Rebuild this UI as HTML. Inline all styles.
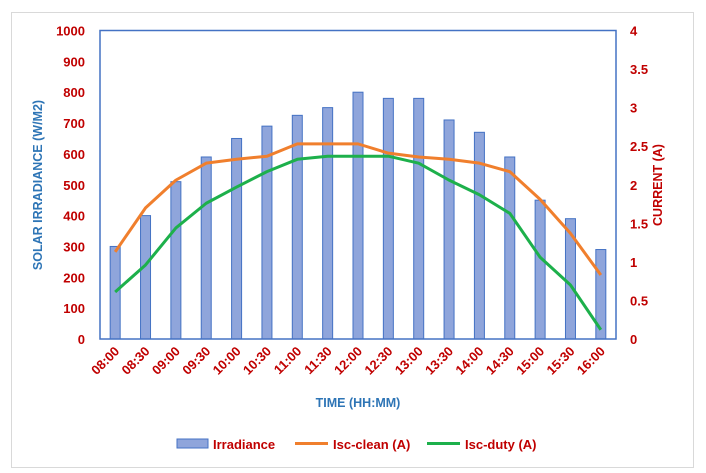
<!DOCTYPE html>
<html><head><meta charset="utf-8"><style>
body{margin:0;background:#fff;}
svg{display:block;font-family:"Liberation Sans",sans-serif;}
</style></head><body>
<svg id="c" width="706" height="473">
<rect x="11.5" y="12.5" width="682" height="455" fill="#fff" stroke="#d9d9d9"/>
<g id="bars"></g>
<g id="lines"></g>
<rect x="100" y="30.5" width="516" height="308.5" fill="none" stroke="#4472C4" stroke-width="1.5"/>
<g id="ticks" font-weight="bold" font-size="13" fill="#C00000"></g>
<text x="42" y="185" transform="rotate(-90 42 185)" text-anchor="middle" font-size="12.5" font-weight="bold" fill="#2E75B6">SOLAR IRRADIANCE (W/M2)</text>
<text x="662" y="185" transform="rotate(-90 662 185)" text-anchor="middle" font-size="12.5" font-weight="bold" fill="#C00000">CURRENT (A)</text>
<text x="358" y="407" text-anchor="middle" font-size="12.5" font-weight="bold" fill="#2E75B6">TIME (HH:MM)</text>
<g font-size="13" font-weight="bold" fill="#C00000">
<rect x="177" y="439" width="31" height="9" fill="#8FA5DB" stroke="#4472C4"/>
<text x="213" y="449">Irradiance</text>
<line x1="295" y1="443.5" x2="328" y2="443.5" stroke="#F07F2D" stroke-width="3"/>
<text x="333" y="449">Isc-clean (A)</text>
<line x1="427" y1="443.5" x2="460" y2="443.5" stroke="#1DB04B" stroke-width="3"/>
<text x="465" y="449">Isc-duty (A)</text>
</g>
</svg>
<script>
const categories=["08:00","08:30","09:00","09:30","10:00","10:30","11:00","11:30","12:00","12:30","13:00","13:30","14:00","14:30","15:00","15:30","16:00"];
const irradiance=[300,400,510,590,650,690,725,750,800,780,780,710,670,590,450,390,290];
const iscClean=[1.13,1.70,2.06,2.28,2.33,2.37,2.53,2.53,2.53,2.41,2.36,2.33,2.28,2.17,1.81,1.37,0.83];
const iscDuty=[0.61,0.96,1.44,1.76,1.97,2.17,2.33,2.37,2.37,2.37,2.28,2.06,1.87,1.63,1.06,0.70,0.12];
const leftTicks=[0,100,200,300,400,500,600,700,800,900,1000];
const rightTicks=["0","0.5","1","1.5","2","2.5","3","3.5","4"];
const NS="http://www.w3.org/2000/svg";
const L=100,R=616,T=30.5,B=339;
const bw=(R-L)/categories.length;
const xC=i=>L+bw*(i+0.5);
const yL=v=>B-(v/1000)*(B-T);
const yR=v=>B-(v/4)*(B-T);
function mk(tag,attrs,parent,txt){const e=document.createElementNS(NS,tag);for(const k in attrs)e.setAttribute(k,attrs[k]);if(txt!==undefined)e.textContent=txt;parent.appendChild(e);return e;}
const bars=document.getElementById('bars');
irradiance.forEach((v,i)=>{
 const r=mk('rect',{x:xC(i)-5,y:yL(v),width:10,height:B-yL(v),fill:'#8FA5DB',stroke:'#4472C4','stroke-width':1},bars);
 
 
});
const lines=document.getElementById('lines');
[[iscClean,'#F07F2D','line-isc-clean'],[iscDuty,'#1DB04B','line-isc-duty']].forEach(([arr,col,nm])=>{
 const p=mk('polyline',{points:arr.map((v,i)=>xC(i)+','+yR(v)).join(' '),fill:'none',stroke:col,'stroke-width':3,'stroke-linejoin':'round'},lines);
 
 
});
const ticks=document.getElementById('ticks');
leftTicks.forEach(v=>{
 const t=mk('text',{x:85,y:yL(v)+5,'text-anchor':'end'},ticks,String(v));
 
 
});
rightTicks.forEach(v=>{
 const t=mk('text',{x:630,y:yR(parseFloat(v))+5,'text-anchor':'start'},ticks,v);
 
 
});
categories.forEach((c,i)=>{
 const x=xC(i)+5,y=352;
 const t=mk('text',{x:x,y:y,'text-anchor':'end',transform:'rotate(-45 '+x+' '+y+')'},ticks,c);
 
 
});
</script>
</body></html>
